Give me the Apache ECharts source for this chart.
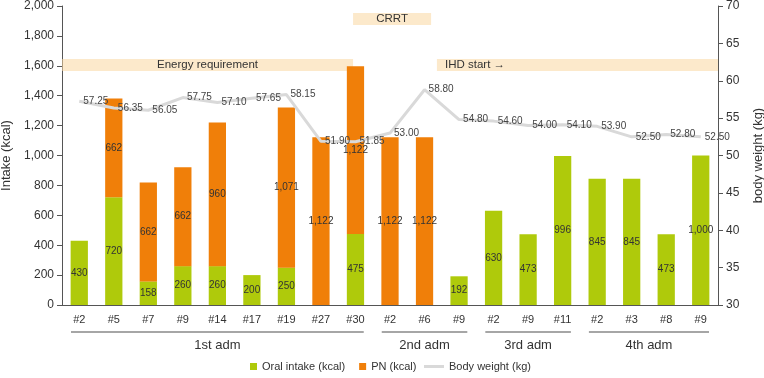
<!DOCTYPE html>
<html><head><meta charset="utf-8">
<script src="https://cdn.jsdelivr.net/npm/echarts@6/dist/echarts.min.js"></script>
<style>html,body{margin:0;padding:0;background:#fff}#c{width:764px;height:378px}</style>
</head><body><div id="c"></div>
<script>
const categories = ['#2','#5','#7','#9','#14','#17','#19','#27','#30','#2','#6','#9','#2','#9','#11','#2','#3','#8','#9'];
const oralIntake = [430,720,158,260,260,200,250,0,475,0,0,192,630,473,996,845,845,473,1000];
const pnIntake = [0,662,662,662,960,0,1071,1122,1122,1122,1122,0,0,0,0,0,0,0,0];
const bodyWeight = [57.25,56.35,56.05,57.75,57.10,57.65,58.15,51.90,51.85,53.00,58.80,54.80,54.60,54.00,54.10,53.90,52.50,52.80,52.50];
const groupNames = ['1st adm','2nd adm','3rd adm','4th adm'];
const groupStart = [0,9,12,15];
const groupEnd = [8,11,14,18];
const annotationNames = ['Energy requirement','CRRT','IHD start \u2192'];
const annotationX = [[-0.5,7.93],[7.93,10.19],[10.36,18.5]];
const annotationY = [[1565,1645],[1873,1953],[1565,1645]];

function fmt(v){ return String(Math.round(v)).replace(/\B(?=(\d{3})+(?!\d))/g, ','); }
const FONT = 'Liberation Sans';
const chart = echarts.init(document.getElementById('c'));
const axisLineStyle = {color:'#555', width:1};
const option = {
  animation:false,
  textStyle:{fontFamily:FONT},
  grid:{left:62, right:46, top:6, bottom:73, containLabel:false, outerBoundsMode:'none'},
  legend:[
    {data:['Oral intake (kcal)','PN (kcal)'], left:245, top:356, itemWidth:7, itemHeight:7, itemGap:14, icon:'rect',
     textStyle:{fontSize:11, color:'#333', fontFamily:FONT}},
    {data:['Body weight (kg)'], left:419, top:356, itemWidth:20, itemHeight:3, icon:'rect',
     textStyle:{fontSize:11, color:'#333', fontFamily:FONT}}
  ],
  xAxis:[
    {type:'category', data:categories, axisLine:{onZero:false, lineStyle:axisLineStyle},
     axisTick:{alignWithLabel:true, length:5, lineStyle:axisLineStyle},
     axisLabel:{color:'#333', fontSize:11, margin:9, interval:0}},
    {type:'value', min:-0.5, max:18.5, show:false}
  ],
  yAxis:[
    {type:'value', min:0, max:2000, interval:200, name:'Intake (kcal)', nameLocation:'middle', nameGap:47, nameRotate:90,
     nameTextStyle:{fontSize:13, color:'#333'},
     axisLine:{show:true, onZero:false, lineStyle:axisLineStyle}, axisTick:{show:true, length:5, lineStyle:axisLineStyle},
     splitLine:{show:false}, axisLabel:{color:'#333', fontSize:12, formatter:fmt}},
    {type:'value', min:30, max:70, interval:5, position:'right', name:'body weight (kg)', nameLocation:'middle', nameGap:34, nameRotate:90,
     nameTextStyle:{fontSize:13, color:'#333'},
     axisLine:{show:true, onZero:false, lineStyle:axisLineStyle}, axisTick:{show:true, length:5, lineStyle:axisLineStyle},
     splitLine:{show:false}, axisLabel:{color:'#333', fontSize:12}}
  ],
  series:[
    {name:'Oral intake (kcal)', type:'bar', stack:'t', barWidth:'50%', data:oralIntake, itemStyle:{color:'#afca0b'},
     label:{show:true, position:'inside', color:'#333', fontSize:10, formatter:p=>p.value?fmt(p.value):''}},
    {name:'PN (kcal)', type:'bar', stack:'t', barWidth:'50%', data:pnIntake, itemStyle:{color:'#f07f09'},
     label:{show:true, position:'inside', color:'#333', fontSize:10, formatter:p=>p.value?fmt(p.value):''}},
    {name:'annot', type:'line', xAxisIndex:1, yAxisIndex:0, data:[], z:4, silent:true,
     markArea:{silent:true, itemStyle:{color:'rgba(250,215,160,0.55)'},
       data: annotationNames.map((n,i)=>[
         {name:n, xAxis:annotationX[i][0], yAxis:annotationY[i][0],
          label:{position: i===2?'insideLeft':'inside', distance:8, color:'#333', fontSize:11.5}},
         {xAxis:annotationX[i][1], yAxis:annotationY[i][1]}
       ])}},
    {name:'Body weight (kg)', type:'line', yAxisIndex:1, data:bodyWeight, z:5,
     symbol:'circle', symbolSize:0.1, itemStyle:{color:'#d9d9d9'}, lineStyle:{color:'#d9d9d9', width:3},
     label:{show:true, position:'right', distance:4, color:'#444', fontSize:10, formatter:p=>p.value.toFixed(2)}}
  ]
};
chart.setOption(option);
const graphics = [];
groupNames.forEach((g,i)=>{
  const x0 = chart.convertToPixel({xAxisIndex:1}, groupStart[i]-0.5) + 9;
  const x1 = chart.convertToPixel({xAxisIndex:1}, groupEnd[i]+0.5) - 9;
  graphics.push({type:'line', shape:{x1:x0, y1:332, x2:x1, y2:332}, style:{stroke:'#888', lineWidth:1.5}});
  graphics.push({type:'text', x:(x0+x1)/2, y:345, style:{text:g, fill:'#333', font:'13px '+FONT, align:'center', verticalAlign:'middle'}});
});
chart.setOption({graphic:graphics});
</script>
</body></html>
